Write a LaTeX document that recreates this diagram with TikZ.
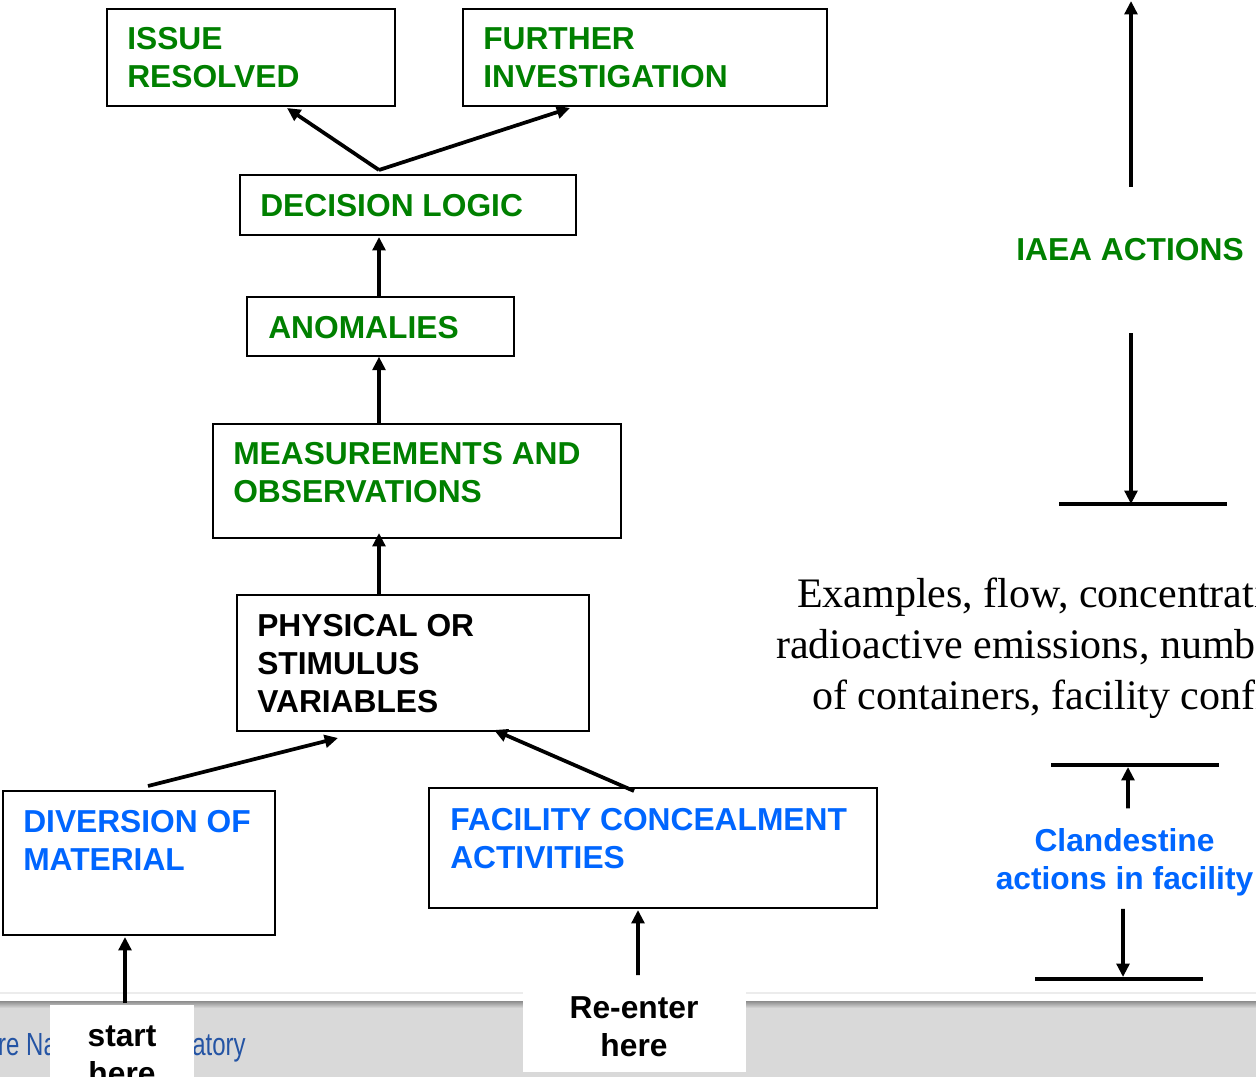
\documentclass[tikz,border=0pt]{standalone}
\usepackage{graphicx}
\usepackage{fontspec}
\setmainfont{Liberation Sans}
\newfontfamily\timesfont{Liberation Serif}
\usetikzlibrary{arrows.meta}
\definecolor{boxgreen}{RGB}{0,128,0}
\definecolor{boxblue}{RGB}{0,102,255}
\definecolor{footblue}{RGB}{36,84,164}
\definecolor{footgray}{RGB}{217,217,217}
\definecolor{footline}{RGB}{236,236,236}
\definecolor{footedge}{RGB}{140,140,140}

\begin{document}
\begin{tikzpicture}[x=0.75pt,y=-0.75pt,
  box/.style={draw=black,line width=1.4pt,inner sep=0pt,outer sep=0pt},
  lbl/.style={anchor=base west,inner sep=0pt,align=left,
              font=\bfseries\fontsize{23.8}{28.5}\selectfont},
  clbl/.style={anchor=base,inner sep=0pt,outer sep=0pt,align=center,
              font=\bfseries\fontsize{23.8}{28.5}\selectfont},
  arr/.style={line width=2.8pt,-{Triangle[length=10pt,width=9.5pt]}},
  bar/.style={line width=3pt},
  serifline/.style={anchor=base west,inner sep=0pt,
              font=\timesfont\fontsize{31.5}{38}\selectfont}]

\useasboundingbox (0,0) rectangle (1256,1077);
\clip (0,0) rectangle (1256,1077);
\fill[white] (0,0) rectangle (1256,1077);

% ---- footer band ----
\draw[footline,line width=1.5pt] (0,993) -- (1256,993);
\fill[footgray] (0,1002) rectangle (1256,1077);
\shade[top color=footedge,bottom color=footgray] (0,1001) rectangle (1256,1008);
\node[anchor=base east,inner sep=0pt,text=footblue,
      font=\fontsize{24}{24}\selectfont] (lab) at (246,1055)
      {\scalebox{0.75}[1]{Livermore National\kern10pt\ Laboratory}};

% ---- boxes ----
\node[box,minimum width={288*0.75pt},minimum height={97*0.75pt}] (issue) at (251,57.5) {};
\node[box,minimum width={364*0.75pt},minimum height={97*0.75pt}] (further) at (645,57.5) {};
\node[box,minimum width={336*0.75pt},minimum height={60*0.75pt}] (decision) at (408,205) {};
\node[box,minimum width={267*0.75pt},minimum height={59*0.75pt}] (anomalies) at (380.5,326.5) {};
\node[box,minimum width={408*0.75pt},minimum height={114*0.75pt}] (meas) at (417,481) {};
\node[box,minimum width={352*0.75pt},minimum height={136*0.75pt}] (phys) at (413,663) {};
\node[box,minimum width={272*0.75pt},minimum height={144*0.75pt}] (div) at (139,863) {};
\node[box,minimum width={448*0.75pt},minimum height={120*0.75pt}] (fac) at (653,848) {};

% ---- box labels (anchored on the baseline of their last line) ----
\node[lbl,text=boxgreen] (issuet) at (127,88) {ISSUE\\RESOLVED};
\node[lbl,text=boxgreen] (furthert) at (483,88) {FURTHER\\INVESTIGATION};
\node[lbl,text=boxgreen] (decisiont) at (260,216) {DECISION LOGIC};
\node[lbl,text=boxgreen] (anomaliest) at (268,338) {ANOMALIES};
\node[lbl,text=boxgreen] (meast) at (233,502) {MEASUREMENTS AND\\OBSERVATIONS};
\node[lbl,text=black] (physt) at (257,712) {PHYSICAL OR\\STIMULUS\\VARIABLES};
\node[lbl,text=boxblue] (divt) at (23,870) {DIVERSION OF\\MATERIAL};
\node[lbl,text=boxblue] (fact) at (450,868) {FACILITY CONCEALMENT\\ACTIVITIES};

% ---- entry boxes on the footer ----
\node[fill=white,inner sep=0pt,outer sep=0pt,anchor=north west,
      minimum width={144*0.75pt},minimum height={80*0.75pt}] (start) at (50,1005) {};
\node[clbl,text=black] (startt) at (122,1084) {start\\here};
\node[fill=white,inner sep=0pt,outer sep=0pt,anchor=north west,
      minimum width={223*0.75pt},minimum height={86*0.75pt}] (reenter) at (523,986) {};
\node[clbl,text=black] (reentert) at (634,1056) {Re-enter\\here};

% ---- connectors ----
\coordinate (fork) at (379,170);
\draw[arr] (fork) -- ([xshift=27pt,yshift=-1.5pt]issue.south);
\draw[arr] (fork) -- ([xshift=-56.25pt,yshift=-1.5pt]further.south);
\draw[arr] ([xshift=-1.1pt]anomalies.north) -- ([xshift=-21.75pt,yshift=-1.5pt]decision.south);
\draw[arr] (meas.north -| fork) -- ([yshift=-0.5pt]anomalies.south -| fork);
\draw[arr] (phys.north -| fork) -- ([yshift=3.75pt]meas.south -| fork);
\draw[arr] ([xshift=6.75pt,yshift=3.75pt]div.north) -- ([xshift=-56.25pt,yshift=-5.25pt]phys.south);
\draw[arr] ([xshift=-14.25pt,yshift=-2.25pt]fac.north) -- ([xshift=60.75pt,yshift=0.75pt]phys.south);
\draw[arr] ([xshift=2.25pt,yshift=1.5pt]start.north) -- ([xshift=-10.5pt,yshift=-1.5pt]div.south);
\draw[arr] ([xshift=2.6pt,yshift=8.25pt]reenter.north) -- ([xshift=-11.25pt,yshift=-1.5pt]fac.south);

% ---- right column: IAEA actions ----
\node[anchor=base,inner sep=0pt,outer sep=0pt,text=boxgreen,
      font=\bfseries\fontsize{23.8}{28.5}\selectfont] (iaea) at (1130,260) {IAEA ACTIONS};
\coordinate (iaeatop) at (1131,1);
\coordinate (iaeabar) at (1131,504);
\draw[arr] ([xshift=0.75pt,yshift=38.25pt]iaea.north) -- (iaeatop);
\draw[arr] ([xshift=0.75pt,yshift=-54.75pt]iaea.south) -- (iaeabar);
\draw[bar] ([xshift=-54pt]iaeabar) -- ([xshift=72pt]iaeabar);

% ---- examples of variables ----
\node[serifline] (ex1) at (797,607) {Examples, flow, concentrations,};
\node[serifline] (ex2) at (776,658) {radioactive emissions, number};
\node[serifline] (ex3) at (812,709) {of containers, facility configuration};

% ---- right column: clandestine actions ----
\node[clbl,text=boxblue] (cland) at (1124.5,889) {Clandestine\\actions in facility};
\coordinate (clbartop) at (1128,765);
\coordinate (clbarbot) at (1123,979);
\draw[bar] ([xshift=-57.75pt]clbartop) -- ([xshift=68.25pt]clbartop);
\draw[bar] ([xshift=-66pt]clbarbot) -- ([xshift=60pt]clbarbot);
\draw[arr] ([xshift=2.6pt,yshift=14.7pt]cland.north) -- ([yshift=-1.5pt]clbartop);
\draw[arr] ([xshift=-1.1pt,yshift=-10pt]cland.south) -- ([yshift=1.5pt]clbarbot);

\end{tikzpicture}
\end{document}
